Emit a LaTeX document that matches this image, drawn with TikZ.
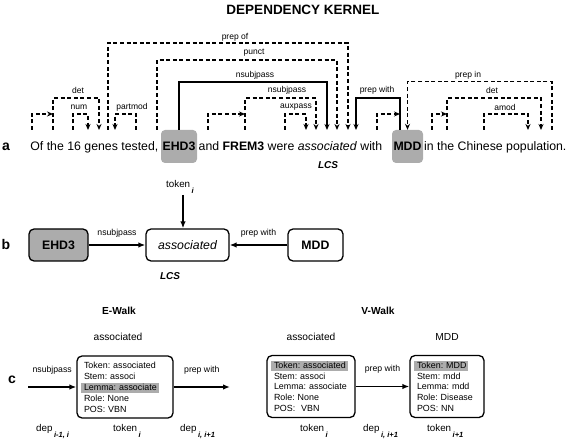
\documentclass[tikz,border=0pt]{standalone}
\usepackage{fontspec}
\setmainfont{Liberation Sans}
\usepackage{calc}
\usetikzlibrary{arrows.meta}
\definecolor{hl}{RGB}{172,172,172}
\newcommand{\hlt}[1]{\makebox[0pt][l]{\hspace*{-3pt}\textcolor{hl}{\rule[-3pt]{\widthof{#1}+5pt}{10pt}}}#1}
\newcommand{\subx}[1]{\kern1.5pt\raisebox{-6pt}{\fontsize{7.5}{8}\selectfont\bfseries\itshape #1}}
\frenchspacing
\hyphenpenalty=10000
\begin{document}
\begin{tikzpicture}[x=1pt,y=-1pt,
  lab/.style={font=\fontsize{8.5}{10}\selectfont, inner sep=0pt},
  darc/.style={line width=1.2pt, dash pattern=on 4pt off 2.6pt},
  sarc/.style={line width=1.2pt},
  tipd/.style={-{Stealth[length=6pt,width=5pt]}},
  sent/.style={font=\fontsize{12.3}{14}\selectfont, inner sep=0pt},
  gbox/.style={fill=hl, rounded corners=4pt, minimum height=33pt, inner sep=0pt, font=\fontsize{12.3}{14}\selectfont\bfseries},
  plab/.style={font=\fontsize{14}{16}\selectfont\bfseries, inner sep=0pt, anchor=base},
  bbox/.style={draw, line width=1.3pt, rounded corners=5pt, minimum height=32pt, inner sep=0pt, font=\fontsize{12.3}{14}\selectfont},
  carrow/.style={line width=1.5pt, -{Latex[length=7pt,width=5.5pt]}},
  clab/.style={font=\fontsize{8.7}{10}\selectfont, inner sep=0pt},
  cbox/.style={draw, line width=1.3pt, rounded corners=5pt, minimum height=62pt, inner xsep=7pt, inner ysep=0pt, align=left, font=\fontsize{8.9}{10.8}\selectfont\frenchspacing},
  head/.style={font=\fontsize{10.2}{12}\selectfont, inner sep=0pt},
  headb/.style={font=\fontsize{10.2}{12}\selectfont\bfseries, inner sep=0pt},
  bot/.style={font=\fontsize{9.8}{12}\selectfont, inner sep=0pt, anchor=base west},
  lcs/.style={font=\fontsize{10}{12}\selectfont\bfseries\itshape, inner sep=0pt},
]
\useasboundingbox (0,0) rectangle (567,443);

% title
\node[font=\fontsize{13.5}{16}\selectfont\bfseries, anchor=base, inner sep=0pt] (title) at (303,15) {DEPENDENCY KERNEL};

% ---------- panel a ----------
\node[plab] (pa) at (6,151) {a};
\node[sent, anchor=base east] (s1) at (158.5,151) {Of the 16 genes tested,};
\node[gbox, minimum width=36pt] (ehd) at (179,146.5) {EHD3};
\node[sent, anchor=base west] (s2) at (198.5,151) {and \textbf{FREM3} were \textit{associated} with};
\node[gbox, minimum width=31pt] (mdd) at (407.5,146.5) {MDD};
\node[sent, anchor=base west] (s3) at (424,151) {in the Chinese population.};
\node[lcs] (lcsA) at (328,165) {LCS};

\foreach \n/\x in {Of/32, the/53, six/73, gnum/88, gdet/99, gprep/108, gpart/115, tested/136, comma/157, and/208, frem/245, were/285, aaux/306, ansd/316, ans/327, apunct/337, aprep/348, apw/356, with/377, mddL/400, in/432, the2/447, chin/484, pamod/528, pdet/541, pop/552}
  \coordinate (\n) at (\x,130);

\draw[darc,tipd] (Of) |- ([yshift=16pt]the);
\draw[darc,tipd] (the) |- ([yshift=32pt]gdet) -- (gdet);
\draw[darc,tipd] (six) |- ([yshift=16pt]gnum) -- (gnum);
\draw[darc,tipd] (gprep) |- ([yshift=87pt]aprep) -- (aprep);
\draw[darc,tipd] (tested) |- ([yshift=16pt]gpart) -- (gpart);
\draw[darc,tipd] (comma) |- ([yshift=70pt]apunct) -- (apunct);
\draw[sarc,tipd] (ehd.north) |- ([yshift=48pt]ans) -- (ans);
\draw[darc,tipd] (and) |- ([yshift=16pt]frem);
\draw[darc,tipd] (frem) |- ([yshift=32pt]ansd) -- (ansd);
\draw[darc,tipd] (were) |- ([yshift=16pt]aaux) -- (aaux);
\draw[sarc,tipd] (mddL) |- ([yshift=32pt]apw) -- (apw);
\draw[darc,tipd] (with) |- ([yshift=16pt]mddL);
\draw[darc,tipd] (pop) |- ([yshift=48pt]mdd.north) -- (mdd.north);
\draw[darc,tipd] (in) |- ([yshift=16pt]the2);
\draw[darc,tipd] (the2) |- ([yshift=32pt]pdet) -- (pdet);
\draw[darc,tipd] (chin) |- ([yshift=16pt]pamod) -- (pamod);

\node[lab] (Lprepof) at (235,37) {prep of};
\node[lab] (Lpunct) at (254,53) {punct};
\node[lab] (Lns1) at (255,75) {nsubjpass};
\node[lab] (Lprepin) at (468,75) {prep in};
\node[lab] (Ldet1) at (78,90) {det};
\node[lab] (Lns2) at (287,90) {nsubjpass};
\node[lab] (Lpw) at (377,90) {prep with};
\node[lab] (Ldet2) at (492,90) {det};
\node[lab] (Lnum) at (79,107) {num};
\node[lab] (Lpart) at (132,107) {partmod};
\node[lab] (Laux) at (296,107) {auxpass};
\node[lab] (Lamod) at (505,107) {amod};

% ---------- panel b ----------
\node[plab] (pb) at (6,250) {b};
\node[bbox, fill=hl, minimum width=59pt] (bE) at (58.5,245) {\bfseries EHD3};
\node[bbox, minimum width=83pt] (bA) at (187.5,245) {\itshape associated};
\node[bbox, minimum width=55pt] (bM) at (315.5,245) {\bfseries MDD};
\draw[carrow] (bE) -- (bA) node[clab, midway, above=7pt] (Lb1) {nsubjpass};
\draw[carrow] (bM) -- (bA) node[clab, midway, above=7pt] (Lb2) {prep with};
\node[bot] (tokb) at (166,188) {token\subx{i}};
\coordinate (tokc) at (183,195);
\draw[carrow] (tokc) -- (tokc |- bA.north);
\node[lcs] (lcsB) at (170,276) {LCS};

% ---------- panel c ----------
\node[plab] (pc) at (12,383) {c};
\node[headb] (ew) at (119,311) {E-Walk};
\node[head] (eh) at (118,337) {associated};
\node[cbox, text width=82pt] (eBox) at (125,387) {\rule{0pt}{7pt}Token: associated\\Stem: associ\\\hlt{Lemma: associate}\\Role: None\\POS: VBN};
\coordinate (ein) at (28,387);
\coordinate (eout) at (230,387);
\draw[carrow] (ein) -- (eBox) node[clab, midway, above=12pt] (Le1) {nsubjpass};
\draw[carrow] (eBox) -- (eout) node[clab, midway, above=12pt] (Le2) {prep with};

\node[headb] (vw) at (378,311) {V-Walk};
\node[head] (vh1) at (311,337) {associated};
\node[head] (vh2) at (447,337) {MDD};
\node[cbox, text width=74pt] (v1) at (311,386.5) {\hlt{Token: associated}\\Stem: associ\\Lemma: associate\\Role: None\\POS:\ \ VBN};
\node[cbox, text width=60pt] (v2) at (447,386.5) {\hlt{Token: MDD}\\Stem: mdd\\Lemma: mdd\\Role: Disease\\POS: NN};
\draw[carrow] (v1) -- (v2) node[clab, midway, above=12pt] (Lv) {prep with};

\node[bot] (d1) at (36,431.5) {dep\subx{i-1, i}};
\node[bot] (t1) at (113,431.5) {token\subx{i}};
\node[bot] (d2) at (180,431.5) {dep\subx{i, i+1}};
\node[bot] (t2) at (300,431.5) {token\subx{i}};
\node[bot] (d3) at (363,431.5) {dep\subx{i, i+1}};
\node[bot] (t3) at (427,431.5) {token\subx{i+1}};
\end{tikzpicture}
\end{document}
